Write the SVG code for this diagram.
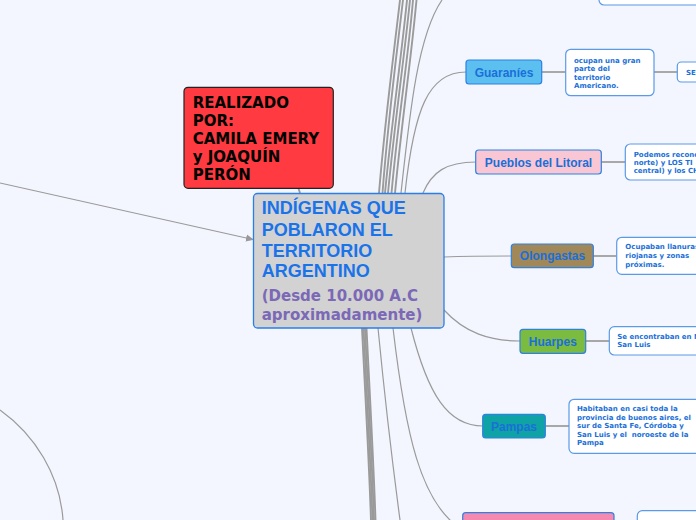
<svg xmlns="http://www.w3.org/2000/svg" width="696" height="520" viewBox="0 0 696 520">
<defs>
<marker id="arr" markerWidth="8" markerHeight="8" refX="7" refY="4" orient="auto" markerUnits="userSpaceOnUse">
<path d="M0,0.5 L8,4 L0,7.5 Z" fill="#999"/>
</marker>
<style>
.bg{fill:#f3f6fe}
.thick{fill:none;stroke:#9a9a9a;stroke-width:1.9}
.thin{fill:none;stroke:#9a9a9a;stroke-width:1.2}
.link{fill:none;stroke:#a0a0a0;stroke-width:1.8}
.cat{stroke:#2f80e4;stroke-width:1.2}
.desc{fill:#fff;stroke:#5a9ae8;stroke-width:1.2}
.ct{font-family:"Liberation Sans",Arial,sans-serif;font-weight:bold;font-size:12px;fill:#1a6fd8;text-anchor:middle}
.dt{font-family:"DejaVu Sans",Verdana,sans-serif;font-weight:bold;font-size:7px;fill:#1a6fd8}
</style>
</defs>
<rect class="bg" x="0" y="0" width="696" height="520"/>
<g id="connectors">
<path class="thick" d="M379,193 C385,120 393,60 400,0"/>
<path class="thick" d="M382.5,193 C388,120 396,60 403,0"/>
<path class="thick" d="M385,193 C392,120 401,60 407,0"/>
<path class="thick" d="M388,193 C395,120 404,60 410,0"/>
<path class="thick" d="M391.5,193 C398,120 408,60 413,0"/>
<path class="thick" d="M395,193 C402,120 411,60 416.5,0"/>
<path class="thin" d="M401,193 C410,110 418,35 442,0"/>
<path class="thin" d="M405,193 C414,110 428,72 466,72"/>
<path class="thin" d="M423,193 C432,172 446,162 476,162"/>
<path class="thin" d="M444,257 C470,256 490,256 511,256"/>
<path class="thin" d="M444,310 C465,333 490,341 520,341"/>
<path class="thin" d="M411,328 C428,395 448,426 483,426"/>
<path class="thin" d="M393,328 C405,430 420,505 463,530"/>
<path class="thin" d="M378,328 C384,390 392,460 400,520"/>
<path class="thick" d="M362,328 C365,390 369,460 371,520"/>
<path class="thick" d="M363.5,328 C366.5,390 370.5,460 372.5,520"/>
<path class="thick" d="M365,328 C368,390 372,460 374,520"/>
<path class="thick" d="M366.5,328 C369.5,390 373.5,460 375.5,520"/>
<path class="thick" d="M300,193 L298,187"/>
<path class="thin" d="M0,183 L253,239.5" marker-end="url(#arr)"/>
<path class="thin" d="M0,410 C35,435 60,475 63,520"/>
<path class="link" d="M541.7,72 L565.7,72"/>
<path class="link" d="M654,72 L677.3,72"/>
<path class="link" d="M601.3,162 L625.3,162"/>
<path class="link" d="M593.3,256 L616.7,256"/>
<path class="link" d="M585.7,341 L609.3,341"/>
<path class="link" d="M545.3,426 L569,426"/>
<path class="link" d="M614,528 L637.3,528"/>
</g>
<g id="top-node">
<rect class="desc" x="599" y="-30" width="110" height="35" rx="5"/>
</g>
<g id="realizado">
<rect x="184" y="87.3" width="149.3" height="101" rx="4" fill="#ff3a40" stroke="#222" stroke-width="1.2"/>
<g font-family="'DejaVu Sans',Verdana,sans-serif" font-weight="bold" font-size="15" fill="#000">
<text x="192.7" y="107.5">REALIZADO</text>
<text x="192.7" y="125.5">POR:</text>
<text x="192.7" y="143.5">CAMILA EMERY</text>
<text x="192.7" y="161.5">y JOAQUÍN</text>
<text x="192.7" y="179.5">PERÓN</text>
</g>
</g>
<g id="central">
<rect x="253.5" y="193.5" width="190.5" height="134.5" rx="4" fill="#d2d2d2" stroke="#2b7de9" stroke-width="1.3"/>
<g font-family="'Liberation Sans',Arial,sans-serif" font-weight="bold" font-size="18" fill="#1a73e8">
<text x="261.7" y="214.3">INDÍGENAS QUE</text>
<text x="261.7" y="235.5">POBLARON EL</text>
<text x="261.7" y="256.5">TERRITORIO</text>
<text x="261.7" y="277">ARGENTINO</text>
</g>
<g font-family="'DejaVu Sans',Verdana,sans-serif" font-weight="bold" font-size="15" fill="#7b68b6">
<text x="261.7" y="301">(Desde 10.000 A.C</text>
<text x="261.7" y="319.5">aproximadamente)</text>
</g>
</g>
<g id="guaranies">
<rect class="cat" x="466" y="60" width="75.7" height="24" rx="3" fill="#5bbff0"/>
<text class="ct" x="504" y="76.5">Guaraníes</text>
</g>
<g id="guaranies-desc">
<rect class="desc" x="565.7" y="49.3" width="88.3" height="46.4" rx="5"/>
<text class="dt" x="574" y="63">ocupan una gran</text>
<text class="dt" x="574" y="71.3">parte del</text>
<text class="dt" x="574" y="79.6">territorio</text>
<text class="dt" x="574" y="88">Americano.</text>
</g>
<g id="se">
<rect class="desc" x="677.3" y="62" width="40" height="20" rx="4"/>
<text class="dt" x="686" y="74.5">SE</text>
</g>
<g id="litoral">
<rect class="cat" x="475.7" y="150" width="125.6" height="24" rx="3" fill="#f9c6d4"/>
<text class="ct" x="538.5" y="166.5">Pueblos del Litoral</text>
</g>
<g id="litoral-desc">
<rect class="desc" x="625.3" y="144" width="90" height="36" rx="5"/>
<text class="dt" x="633.7" y="156.7">Podemos recono</text>
<text class="dt" x="633.7" y="165">norte) y LOS TI</text>
<text class="dt" x="633.7" y="173.3">central) y los CH</text>
</g>
<g id="olongastas">
<rect class="cat" x="511.3" y="244" width="82" height="23.7" rx="3" fill="#a08858"/>
<text class="ct" x="552.5" y="259.5">Olongastas</text>
</g>
<g id="olongastas-desc">
<rect class="desc" x="616.7" y="237.3" width="90" height="37" rx="5"/>
<text class="dt" x="625.3" y="249.3">Ocupaban llanuras</text>
<text class="dt" x="625.3" y="258">riojanas y zonas</text>
<text class="dt" x="625.3" y="266.7">próximas.</text>
</g>
<g id="huarpes">
<rect class="cat" x="520" y="329.3" width="65.7" height="24" rx="3" fill="#7bbb40"/>
<text class="ct" x="552.8" y="345.5">Huarpes</text>
</g>
<g id="huarpes-desc">
<rect class="desc" x="609.3" y="326.7" width="100" height="28.3" rx="5"/>
<text class="dt" x="617.3" y="339">Se encontraban en M</text>
<text class="dt" x="617.3" y="347.3">San Luis</text>
</g>
<g id="pampas">
<rect class="cat" x="482.7" y="414.3" width="62.6" height="23.7" rx="3" fill="#10a3a6"/>
<text class="ct" x="514" y="430.5">Pampas</text>
</g>
<g id="pampas-desc">
<rect class="desc" x="569" y="399.3" width="140" height="54" rx="5"/>
<text class="dt" x="577" y="411">Habitaban en casi toda la</text>
<text class="dt" x="577" y="419.6">provincia de buenos aires, el</text>
<text class="dt" x="577" y="428.2">sur de Santa Fe, Córdoba y</text>
<text class="dt" x="577" y="436.8" xml:space="preserve">San Luis y el  noroeste de la</text>
<text class="dt" x="577" y="445.3">Pampa</text>
</g>
<g id="bottom-node">
<rect class="cat" x="462.7" y="512.7" width="151.3" height="30" rx="3" fill="#f48ab0"/>
</g>
<g id="bottom-desc">
<rect class="desc" x="637.3" y="510.7" width="80" height="30" rx="5"/>
</g>
</svg>
